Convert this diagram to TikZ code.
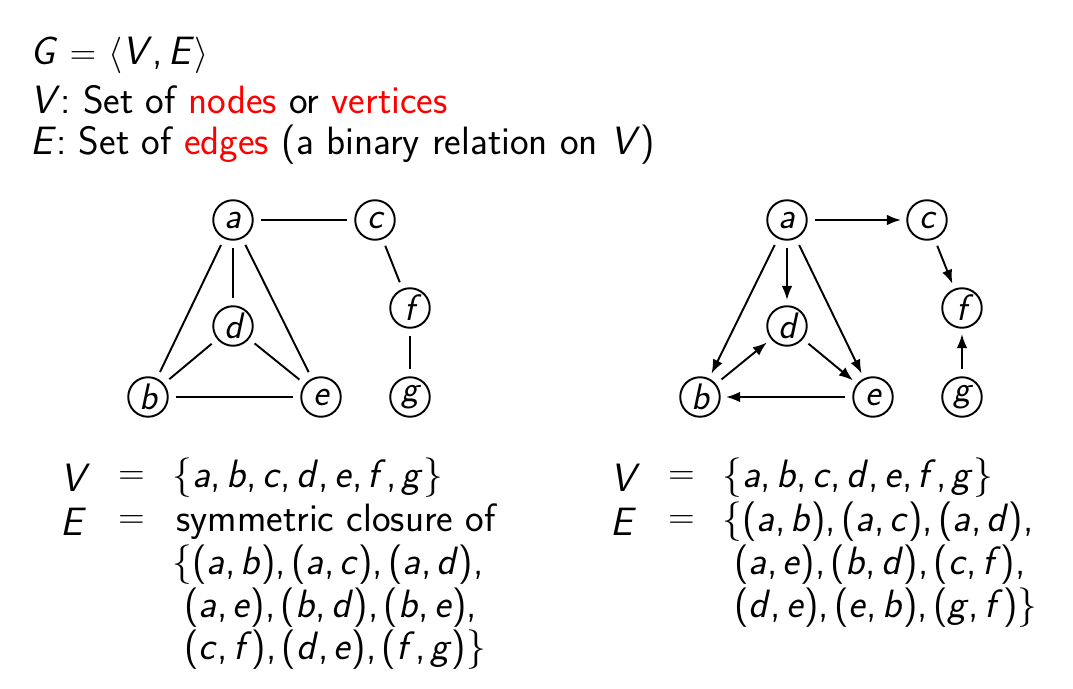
\documentclass[tikz,border=0pt]{standalone}
\usepackage{fontspec}
\setmainfont{Latin Modern Sans}
\usetikzlibrary{arrows.meta}
\newcommand\vv[1]{\textit{#1}}
\newcommand\cm{,\kern3pt}
\tikzset{
  vert/.style={circle,draw,line width=1.1pt,minimum size=22.5pt,inner sep=0pt,font=\fontsize{21}{24}\selectfont\itshape},
  txt/.style={anchor=west,inner sep=0pt,font=\fontsize{22.5}{25}\selectfont},
  edge/.style={line width=1.1pt,shorten >=4pt,shorten <=4pt},
  arc/.style={line width=1.1pt,shorten >=3pt,shorten <=4pt,-{Latex[length=8pt,width=6pt]}}
}
\begin{document}
\begin{tikzpicture}[x=0.02cm,y=-0.02cm]
\useasboundingbox (0,0) rectangle (1073,689);
% header
\node[txt] (h1) at (30,55) {\vv{G} $=$ $\langle$\vv{V}\cm\vv{E}$\rangle$};
\node[txt] (h2) at (30,100) {\vv{V}: Set of \textcolor{red}{nodes} or \textcolor{red}{vertices}};
\node[txt] (h3) at (30,145) {\vv{E}: Set of \textcolor{red}{edges} (a binary relation on \vv{V})};
% undirected graph
\node[vert] (a) at (233,220) {a};
\node[vert] (c) at (375,220) {c};
\node[vert] (d) at (233,326) {d};
\node[vert] (f) at (410,308) {f};
\node[vert] (b) at (148,397) {b};
\node[vert] (e) at (321,397) {e};
\node[vert] (g) at (410,397) {g};
\draw[edge] (a) -- (b);
\draw[edge] (a) -- (c);
\draw[edge] (a) -- (d);
\draw[edge] (a) -- (e);
\draw[edge] (b) -- (d);
\draw[edge] (b) -- (e);
\draw[edge] (c) -- (f);
\draw[edge] (d) -- (e);
\draw[edge] (f) -- (g);
% directed graph
\node[vert] (a2) at (787,220) {a};
\node[vert] (c2) at (927,220) {c};
\node[vert] (d2) at (787,326) {d};
\node[vert] (f2) at (962,308) {f};
\node[vert] (b2) at (700,397) {b};
\node[vert] (e2) at (873,397) {e};
\node[vert] (g2) at (962,397) {g};
\draw[arc] (a2) -- (b2);
\draw[arc] (a2) -- (c2);
\draw[arc] (a2) -- (d2);
\draw[arc] (a2) -- (e2);
\draw[arc] (b2) -- (d2);
\draw[arc] (c2) -- (f2);
\draw[arc] (d2) -- (e2);
\draw[arc] (e2) -- (b2);
\draw[arc] (g2) -- (f2);
% left sets
\node[txt] (lv) at (60,478) {\vv{V}};
\node[txt] (lvq) at (118,478) {$=$};
\node[txt] (lvr) at (172,478) {\{\vv{a}\cm\vv{b}\cm\vv{c}\cm\vv{d}\cm\vv{e}\cm\vv{f}\cm\vv{g}\}};
\node[txt] (le) at (60,522) {\vv{E}};
\node[txt] (leq) at (118,522) {$=$};
\node[txt] (le1) at (176,522) {symmetric closure of};
\node[txt] (le2) at (172,565) {\{(\vv{a}\cm\vv{b})\cm(\vv{a}\cm\vv{c})\cm(\vv{a}\cm\vv{d})\cm};
\node[txt] (le3) at (184,608) {(\vv{a}\cm\vv{e})\cm(\vv{b}\cm\vv{d})\cm(\vv{b}\cm\vv{e})\cm};
\node[txt] (le4) at (184,650) {(\vv{c}\cm\vv{f})\cm(\vv{d}\cm\vv{e})\cm(\vv{f}\cm\vv{g})\}};
% right sets
\node[txt] (rv) at (610,478) {\vv{V}};
\node[txt] (rvq) at (668,478) {$=$};
\node[txt] (rvr) at (722,478) {\{\vv{a}\cm\vv{b}\cm\vv{c}\cm\vv{d}\cm\vv{e}\cm\vv{f}\cm\vv{g}\}};
\node[txt] (re) at (610,522) {\vv{E}};
\node[txt] (req) at (668,522) {$=$};
\node[txt] (re1) at (722,522) {\{(\vv{a}\cm\vv{b})\cm(\vv{a}\cm\vv{c})\cm(\vv{a}\cm\vv{d})\cm};
\node[txt] (re2) at (734,565) {(\vv{a}\cm\vv{e})\cm(\vv{b}\cm\vv{d})\cm(\vv{c}\cm\vv{f})\cm};
\node[txt] (re3) at (734,608) {(\vv{d}\cm\vv{e})\cm(\vv{e}\cm\vv{b})\cm(\vv{g}\cm\vv{f})\}};
\end{tikzpicture}
\end{document}
